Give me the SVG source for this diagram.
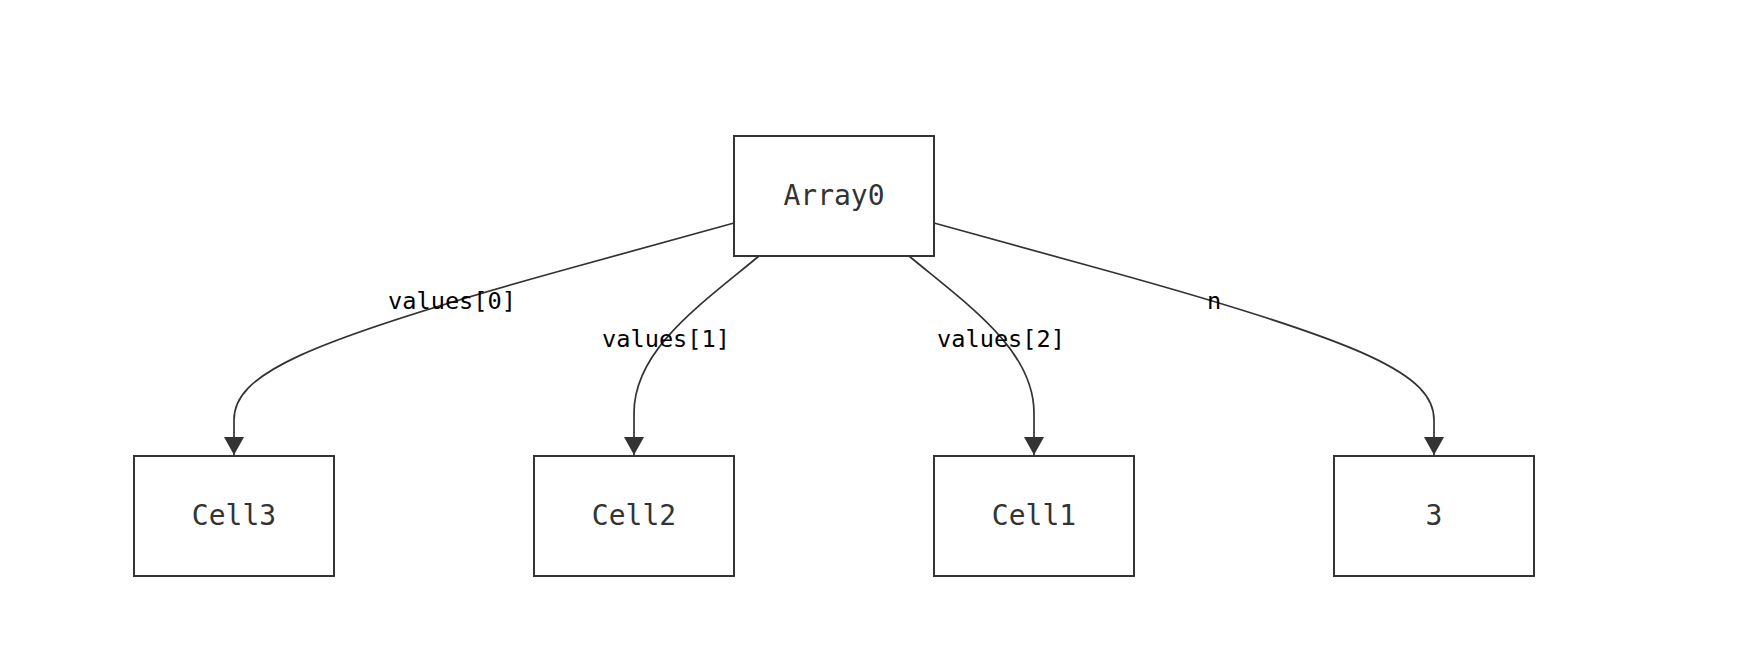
<svg xmlns="http://www.w3.org/2000/svg" width="1752" height="656" viewBox="0 0 1752 656">
<style>
.node rect{fill:#ffffff;stroke:#333333;stroke-width:2}
.node text{font-family:"DejaVu Sans Mono","Liberation Mono",monospace;font-size:28px;fill:#333333;text-anchor:middle}
.edge{fill:none;stroke:#333333;stroke-width:1.7}
.elabel{font-family:"DejaVu Sans Mono","Liberation Mono",monospace;font-size:23.6px;fill:#000000;text-anchor:middle}
</style>
<defs>
<marker id="arrow" markerUnits="userSpaceOnUse" markerWidth="18" markerHeight="20" viewBox="0 0 18 20" refX="18" refY="10" orient="auto">
<path d="M0,0 L18,10 L0,20 Z" fill="#333333"/>
</marker>
</defs>
<rect width="1752" height="656" fill="#ffffff"/>
<g id="connectors">
<path class="edge" d="M734,223 L560,271 C300,343 234,375 234,420 L234,455" marker-end="url(#arrow)"/>
<path class="edge" d="M759,256 C700,305 634,350 634,413 L634,455" marker-end="url(#arrow)"/>
<path class="edge" d="M909,256 C968,305 1034,350 1034,413 L1034,455" marker-end="url(#arrow)"/>
<path class="edge" d="M934,223 L1108,271 C1368,343 1434,375 1434,420 L1434,455" marker-end="url(#arrow)"/>
<text class="elabel" x="452" y="309">values[0]</text>
<text class="elabel" x="666" y="347">values[1]</text>
<text class="elabel" x="1001" y="347">values[2]</text>
<text class="elabel" x="1214" y="309">n</text>
</g>
<g id="Array0" class="node"><rect x="734" y="136" width="200" height="120"/><text x="834" y="205">Array0</text></g>
<g id="Cell3" class="node"><rect x="134" y="456" width="200" height="120"/><text x="234" y="525">Cell3</text></g>
<g id="Cell2" class="node"><rect x="534" y="456" width="200" height="120"/><text x="634" y="525">Cell2</text></g>
<g id="Cell1" class="node"><rect x="934" y="456" width="200" height="120"/><text x="1034" y="525">Cell1</text></g>
<g id="Value3" class="node"><rect x="1334" y="456" width="200" height="120"/><text x="1434" y="525">3</text></g>
</svg>
